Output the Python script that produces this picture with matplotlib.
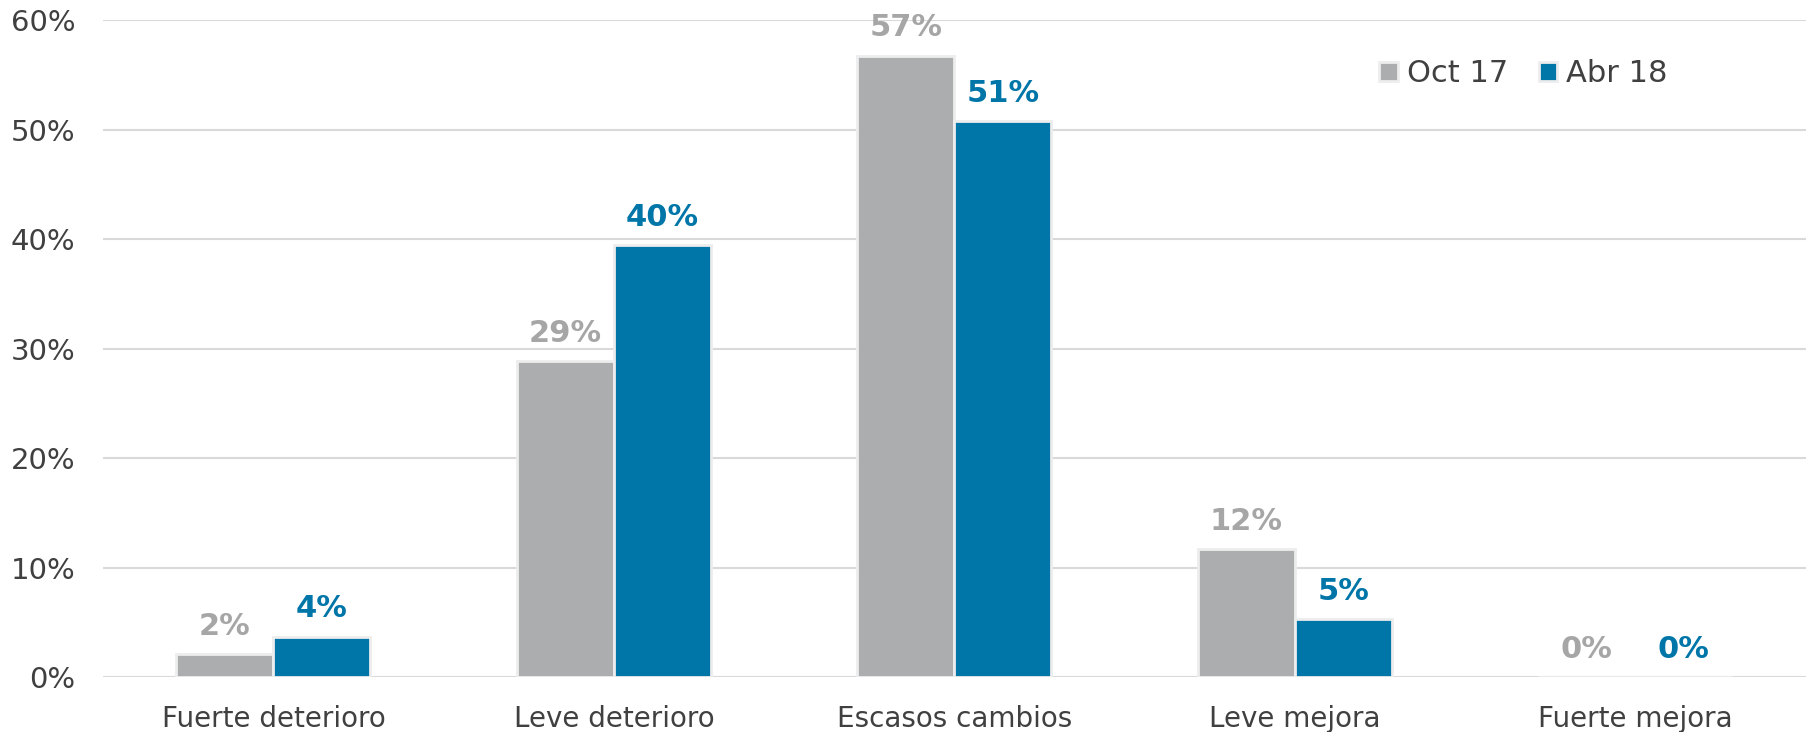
import matplotlib.pyplot as plt
import numpy as np

categorias = ['Fuerte deterioro', 'Leve deterioro', 'Escasos cambios', 'Leve mejora', 'Fuerte mejora']
oct17 = [2.1, 28.9, 56.8, 11.7, 0.0]
abr18 = [3.7, 39.5, 50.8, 5.3, 0.0]
series = ['Oct 17', 'Abr 18']

gris = '#ACADAF'
azul = '#0075A8'
gris_txt = '#A6A6A6'
txt = '#404040'

plt.rcParams['font.family'] = ['DejaVu Sans']

fig, ax = plt.subplots(figsize=(18.11, 7.32), dpi=100)
fig.subplots_adjust(left=0.057, right=0.997, top=0.972, bottom=0.075)

x = np.arange(len(categorias))
w = 0.285
ax.bar(x - w / 2, oct17, w, color=gris, edgecolor='#EDEDED', linewidth=2, label=series[0], zorder=3)
ax.bar(x + w / 2, abr18, w, color=azul, edgecolor='#EDEDED', linewidth=2, label=series[1], zorder=3)

# etiquetas de datos
for xi, v in zip(x - w / 2, oct17):
    ax.text(xi, v + 1.2, f'{v:.0f}%', ha='center', va='bottom', fontsize=22,
            fontweight='bold', color=gris_txt)
for xi, v in zip(x + w / 2, abr18):
    ax.text(xi, v + 1.2, f'{v:.0f}%', ha='center', va='bottom', fontsize=22,
            fontweight='bold', color=azul)

ax.set_xlim(-0.5, 4.5)
ax.set_ylim(0, 60)
ax.set_yticks(range(0, 61, 10))
ax.set_yticklabels([f'{t}%' for t in range(0, 61, 10)])
ax.set_xticks(x)
ax.set_xticklabels(categorias)
ax.tick_params(axis='both', length=0, colors=txt)
ax.tick_params(axis='y', labelsize=21, pad=20)
ax.tick_params(axis='x', labelsize=20, pad=20)

ax.grid(axis='y', color='#D9D9D9', linewidth=1.5, zorder=0)
ax.set_axisbelow(True)
for s in ax.spines.values():
    s.set_visible(False)

ax.legend(loc='center right', bbox_to_anchor=(0.936, 0.899), bbox_transform=fig.transFigure,
          ncol=2, frameon=False, fontsize=22, handlelength=0.6, handleheight=0.6,
          handletextpad=0.3, columnspacing=1.0, labelcolor=txt)

fig.savefig('out.png', dpi=100)
